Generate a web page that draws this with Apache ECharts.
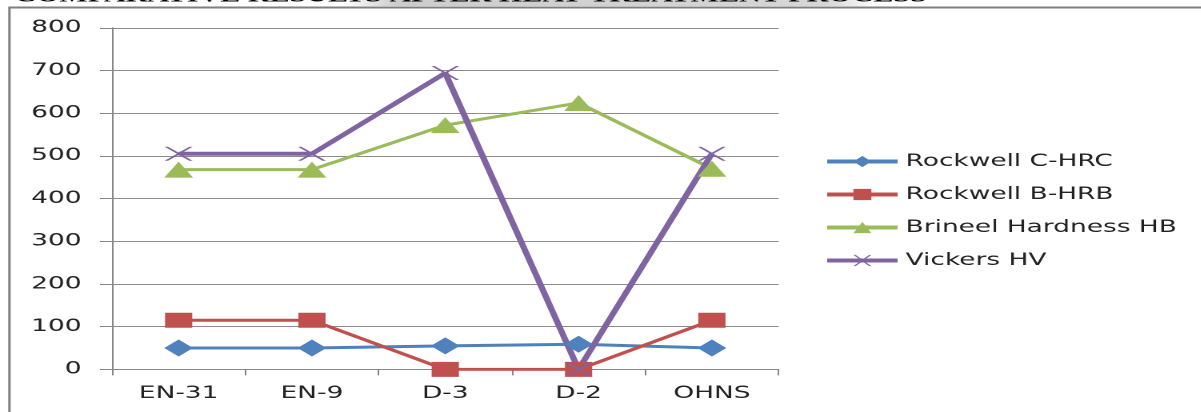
<!DOCTYPE html>
<html>
<head>
<meta charset="utf-8">
<script src="https://cdn.jsdelivr.net/npm/echarts@6/dist/echarts.min.js"></script>
<style>
  html, body { margin: 0; padding: 0; background: #fff; overflow: hidden; }
  #wrap { width: 1201px; height: 412px; overflow: hidden; position: relative; background: #fff; }
  /* the chart is laid out narrow and widened horizontally */
  #chart { position: absolute; left: 0; top: 0; width: 750.625px; height: 412px;
           transform: scaleX(1.6); transform-origin: 0 0; }
</style>
</head>
<body>
<div id="wrap"><div id="chart"></div></div>
<script>
// Hardness test results per steel grade
const categories = ['EN-31', 'EN-9', 'D-3', 'D-2', 'OHNS'];
const rockwellC = [50, 50, 55, 59, 50];
const rockwellB = [115, 115, 0, 0, 115];
const brinell   = [468, 468, 572, 624, 470];
const vickers   = [505, 505, 694, 0, 505];

const yMin = 0, yMax = 800, yStep = 100;
const titleText = 'COMPARATIVE RESULTS AFTER HEAT TREATMENT PROCESS';

const FONT = 'DejaVu Sans';
const AXIS_GREY = '#868686';
const crossPath = 'path://M0,0 L2.4,0 L10,7.6 L17.6,0 L20,0 L11.2,9 L20,18 L17.6,18 L10,10.4 L2.4,18 L0,18 L8.8,9 Z';

const chart = echarts.init(document.getElementById('chart'), null, { renderer: 'canvas', devicePixelRatio: 2 });

function lineSeries(name, data, color, width, symbol, size) {
  return {
    name, type: 'line', data,
    symbol, symbolSize: size,
    lineStyle: { color, width },
    itemStyle: { color },
    emphasis: { disabled: true }
  };
}

chart.setOption({
  animation: false,
  backgroundColor: '#fff',
  textStyle: { fontFamily: FONT },
  graphic: [
    { type: 'rect', silent: true, z: -1,
      shape: { x: 215, y: 0, width: 335, height: 6 },
      style: { fill: new echarts.graphic.LinearGradient(0, 0, 1, 0, [
        { offset: 0, color: 'rgba(200,200,200,0)' },
        { offset: 0.1, color: 'rgba(205,205,205,1)' },
        { offset: 0.9, color: 'rgba(215,215,215,1)' },
        { offset: 1, color: 'rgba(220,220,220,0)' }]) } },
    { type: 'text', silent: true, left: 9, top: -13,
      style: { text: titleText, font: 'bold 18.8px "Liberation Serif"', fill: '#000' } },
    { type: 'line', silent: true,
      shape: { x1: 5.9, y1: 7.5, x2: 760, y2: 7.5 },
      style: { stroke: '#7f7f7f', lineWidth: 2 } },
    { type: 'line', silent: true,
      shape: { x1: 5.9, y1: 6.5, x2: 5.9, y2: 420 },
      style: { stroke: '#7f7f7f', lineWidth: 1.5 } }
  ],
  legend: {
    orient: 'vertical',
    left: 515, top: 153,
    padding: 0,
    itemWidth: 44, itemHeight: 14, itemGap: 16,
    textStyle: { fontFamily: FONT, fontSize: 16.5, color: '#222' },
    data: [
      { name: 'Rockwell C-HRC', lineStyle: { width: 4 } },
      { name: 'Rockwell B-HRB', lineStyle: { width: 4 } },
      { name: 'Brineel Hardness HB', lineStyle: { width: 4 } },
      { name: 'Vickers HV', lineStyle: { width: 4 } }
    ]
  },
  grid: { left: 70, right: 264.4, top: 27.8, bottom: 42.6, containLabel: false },
  xAxis: {
    type: 'category',
    data: categories,
    boundaryGap: true,
    axisLine: { show: true, lineStyle: { color: AXIS_GREY, width: 1 } },
    axisTick: { show: true, length: 6, alignWithLabel: false, lineStyle: { color: AXIS_GREY } },
    axisLabel: { fontFamily: FONT, fontSize: 16.5, color: '#222', margin: 16 }
  },
  yAxis: {
    type: 'value',
    min: yMin, max: yMax, interval: yStep,
    axisLine: { show: true, lineStyle: { color: AXIS_GREY, width: 1 } },
    axisTick: { show: true, length: 7.5, lineStyle: { color: AXIS_GREY } },
    axisLabel: { fontFamily: FONT, fontSize: 16.5, color: '#222', margin: 19 },
    splitLine: { show: true, lineStyle: { color: '#8c8c8c', width: 1 } }
  },
  series: [
    lineSeries('Rockwell C-HRC', rockwellC, '#4F81BD', 3, 'diamond', [18, 17]),
    lineSeries('Rockwell B-HRB', rockwellB, '#C0504D', 3, 'rect', [17, 15]),
    lineSeries('Brineel Hardness HB', brinell, '#9BBB59', 3, 'triangle', [18, 16]),
    lineSeries('Vickers HV', vickers, '#8064A2', 4, crossPath, [17.5, 14])
  ]
});
</script>
</body>
</html>
